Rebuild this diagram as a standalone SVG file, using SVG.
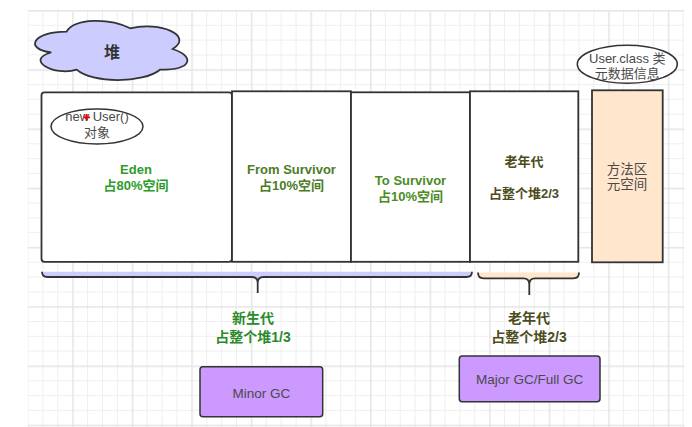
<svg xmlns="http://www.w3.org/2000/svg" width="692" height="427" viewBox="0 0 692 427">
<style>
text{font-family:"Liberation Sans","Noto Sans CJK SC",sans-serif;text-anchor:middle}
.box{fill:#fff;stroke:#333;stroke-width:1.8}
.b{font-weight:bold;font-size:13px}
.n{font-size:13px;fill:#4a4a4a}
.ell{fill:#fff;stroke:#333;stroke-width:1.5}
.gc{fill:#cc99ff;stroke:#333;stroke-width:1.5}
.brace{stroke:#333;stroke-width:1.8;fill:none}
</style>
<defs>
<pattern id="grid" patternUnits="userSpaceOnUse" x="72.2" y="10" width="59.56" height="59.24">
<rect x="14.89" y="0" width="1" height="59.24" fill="#efefef"/>
<rect x="29.78" y="0" width="1" height="59.24" fill="#efefef"/>
<rect x="44.67" y="0" width="1" height="59.24" fill="#efefef"/>
<rect x="0" y="14.81" width="59.56" height="1" fill="#efefef"/>
<rect x="0" y="29.62" width="59.56" height="1" fill="#efefef"/>
<rect x="0" y="44.43" width="59.56" height="1" fill="#efefef"/>
<rect x="0" y="0" width="1.5" height="59.24" fill="#e5e5e5"/>
<rect x="0" y="0" width="59.56" height="1.5" fill="#e5e5e5"/>
</pattern>
</defs>
<rect width="692" height="427" fill="#fff"/>
<rect x="27.8" y="10" width="656.5" height="417" fill="url(#grid)"/>

<g id="heap-cloud">
<path d="M66.5,31.7 C32.5,31.7 24,49 51.2,52.5 C24,60 54.6,76.6 76.7,69.7 C92,83.5 143,83.5 160,69.7 C194,69.7 194,55.9 172.75,49 C194,35.2 160,21.4 130.25,28.3 C109,17.95 75,17.95 66.5,31.7 Z" fill="#ccccff" stroke="#333" stroke-width="1.8"/>
<text x="112" y="57.5" style="font-weight:bold;font-size:16px;fill:#333">堆</text>
</g>

<g id="eden">
<rect class="box" x="41.5" y="92.3" width="190.5" height="169.5" rx="3"/>
<text class="b" x="136" y="173.5" fill="#2c9c2c">Eden</text>
<text class="b" x="136" y="190" fill="#2c9c2c">占80%空间</text>
</g>

<g id="new-user">
<ellipse class="ell" cx="97" cy="126.5" rx="46" ry="17.5"/>
<text class="n" x="97" y="121">new User()</text>
<text class="n" x="97" y="137">对象</text>
<path d="M83.4,117.3 H90 M86.7,114 V120.6" stroke="#e00" stroke-width="1.8"/>
</g>

<g id="from-survivor">
<rect class="box" x="232" y="91.3" width="119" height="170.5"/>
<text class="b" x="291.5" y="173.5" fill="#4d7c26">From Survivor</text>
<text class="b" x="291.5" y="190" fill="#4d7c26">占10%空间</text>
</g>

<g id="to-survivor">
<rect class="box" x="351" y="92.3" width="119" height="169.5"/>
<text class="b" x="410.5" y="184.5" fill="#4b8b1f">To Survivor</text>
<text class="b" x="410.5" y="200.5" fill="#4b8b1f">占10%空间</text>
</g>

<g id="old-gen">
<rect class="box" x="470" y="91.3" width="108.3" height="170.5"/>
<text class="b" x="524" y="165.5" fill="#4c4c20">老年代</text>
<text class="b" x="524" y="197.5" fill="#4c4c20">占整个堆2/3</text>
</g>

<g id="method-area">
<rect x="592" y="90.3" width="70.7" height="172" fill="#ffe6cc" stroke="#333" stroke-width="1.8"/>
<text class="n" x="627" y="173.5" style="font-size:13.5px">方法区</text>
<text class="n" x="627" y="188.5" style="font-size:13.5px">元空间</text>
</g>

<g id="user-class">
<ellipse class="ell" cx="627.3" cy="64.2" rx="50" ry="19"/>
<text class="n" x="627.3" y="62.5">User.class 类</text>
<text class="n" x="627.3" y="77.5">元数据信息</text>
</g>

<g id="young-brace">
<path d="M42,271.7 Q42,277 47.5,277 L252,277 Q257.7,277 257.7,283 Q257.7,277 263.4,277 L466.5,277 Q472,277 472,271.7 Z" fill="#ccccff"/>
<path class="brace" d="M42,271.7 Q42,277 47.5,277 L252,277 Q257.7,277 257.7,283 L257.7,293 M257.7,283 Q257.7,277 263.4,277 L466.5,277 Q472,277 472,271.7"/>
<text class="b" x="253" y="323" fill="#2a8a2a" style="font-size:14px">新生代</text>
<text class="b" x="253" y="342" fill="#2a8a2a" style="font-size:14px">占整个堆1/3</text>
</g>

<g id="old-brace">
<path d="M478,272.5 Q478,278.3 483.5,278.3 L523.5,278.3 Q529.3,278.3 529.3,284.5 Q529.3,278.3 535,278.3 L573.5,278.3 Q579,278.3 579,272.5 Z" fill="#ffe6cc"/>
<path class="brace" d="M478,272.5 Q478,278.3 483.5,278.3 L523.5,278.3 Q529.3,278.3 529.3,284.5 L529.3,295 M529.3,284.5 Q529.3,278.3 535,278.3 L573.5,278.3 Q579,278.3 579,272.5"/>
<text class="b" x="529" y="323" fill="#4c4c20" style="font-size:14px">老年代</text>
<text class="b" x="529" y="342" fill="#4c4c20" style="font-size:14px">占整个堆2/3</text>
</g>

<g id="minor-gc">
<rect class="gc" x="200" y="366.7" width="122.7" height="50" rx="3"/>
<text class="n" x="261.3" y="397.5" style="font-size:13.5px">Minor GC</text>
</g>

<g id="major-gc">
<rect class="gc" x="459.3" y="356" width="140.7" height="45.7" rx="3"/>
<text class="n" x="529.7" y="383.5" style="font-size:13.5px">Major GC/Full GC</text>
</g>

<g id="connectors"/>
</svg>
